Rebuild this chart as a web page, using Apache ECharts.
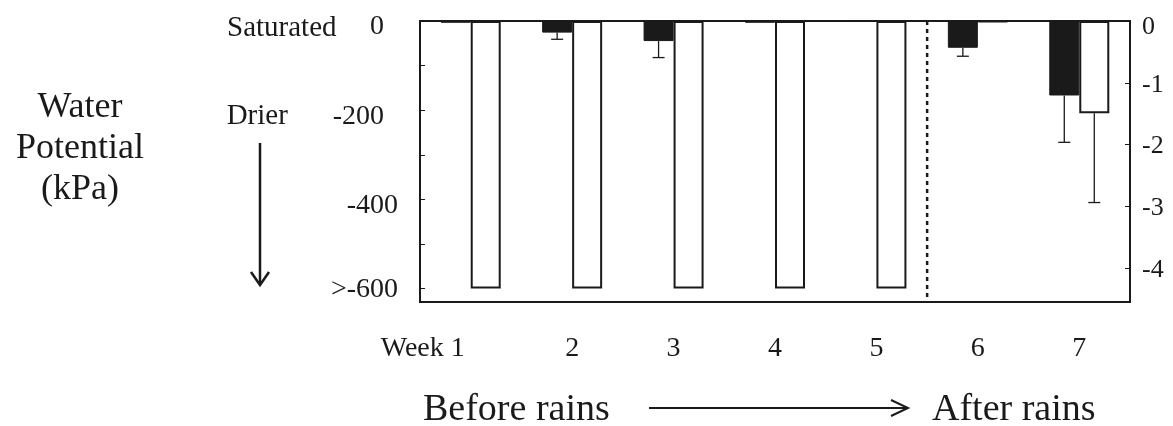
<!DOCTYPE html>
<html>
<head>
<meta charset="utf-8">
<script src="https://cdn.jsdelivr.net/npm/echarts@6/dist/echarts.min.js"></script>
<style>
  html, body { margin: 0; padding: 0; background: #fff; }
  #chart { width: 1173px; height: 426px; }
</style>
</head>
<body>
<div id="chart"></div>
<script>
// weeks along the bottom
var weeks = ['Week 1', '2', '3', '4', '5', '6', '7'];
// black bars (left axis, kPa)
var blackValues = [-4, -26, -45, -4, -2, -60, -167];
// lower end of black error bars (null = none)
var blackErrLow = [null, -41, -82, null, null, -79, -272];
// white bars (left axis, kPa); -600 means off scale (>-600)
var whiteValues = [-600, -600, -600, -600, -600, -2, -207];
var whiteErrLow = [null, null, null, null, null, null, -407];
// tick values
var leftTicks = [0, -100, -200, -300, -400, -500, -600];
var leftLabels = [0, -200, -400, -600];
var rightTicks = [0, -1, -2, -3, -4];
// rains came after this many weeks
var rainsAfterWeek = 5;

var FONT = '"Liberation Serif", "DejaVu Serif", serif';
var INK = '#1a1a1a';

var chart = echarts.init(document.getElementById('chart'));

function errorItems(lows, values) {
  var out = [];
  lows.forEach(function (lo, i) {
    if (lo !== null) out.push([i, values[i], lo]);
  });
  return out;
}

function errRenderer(shift) {
  return function (params, api) {
    var top = api.coord([api.value(0), api.value(1)]);
    var bot = api.coord([api.value(0), api.value(2)]);
    var x = top[0] + shift;
    var style = { stroke: INK, lineWidth: 1.3 };
    return {
      type: 'group',
      children: [
        { type: 'line', shape: { x1: x, y1: top[1], x2: x, y2: bot[1] }, style: style },
        { type: 'line', shape: { x1: x - 6, y1: bot[1], x2: x + 6, y2: bot[1] }, style: style }
      ]
    };
  };
}

var option = {
  animation: false,
  backgroundColor: '#fff',
  grid: {
    left: 420, right: 43, top: 21, bottom: 124,
    show: true, borderColor: INK, borderWidth: 2
  },
  xAxis: [
    {
      type: 'category',
      data: weeks,
      position: 'bottom',
      axisLine: { onZero: false, lineStyle: { color: INK, width: 2 } },
      axisTick: { inside: true, length: 6, interval: 0, lineStyle: { color: INK, width: 1.5 } },
      axisLabel: {
        interval: 0,
        color: INK, fontFamily: FONT, fontSize: 28, margin: 33,
        formatter: function (v, i) { return i === 0 ? '{wk|' + v + '}' : v; },
        rich: { wk: { fontFamily: FONT, fontSize: 28, color: INK, padding: [0, 96, 0, 0] } }
      },
      splitLine: { show: false }
    },
    { type: 'value', min: 0, max: weeks.length, show: false }
  ],
  yAxis: [
    {
      type: 'value',
      min: -630, max: 0,
      axisLine: { show: true, lineStyle: { color: INK, width: 2 } },
      axisTick: { show: true, inside: true, length: 5, customValues: leftTicks, lineStyle: { color: INK } },
      splitLine: { show: false },
      axisLabel: {
        customValues: leftLabels,
        color: INK, fontFamily: FONT, fontSize: 28, margin: 22,
        formatter: function (v) {
          if (v === 0) return '{sat|Saturated}{n1|0}';
          if (v === -200) return '{dri|Drier}{n1|-200}';
          if (v === -600) return '{n3|>-600}';
          return '{n2|' + v + '}';
        },
        rich: {
          sat: { fontFamily: FONT, fontSize: 29, color: INK, width: 143, align: 'left', padding: [14, 0, 0, 0] },
          dri: { fontFamily: FONT, fontSize: 29, color: INK, width: 106, align: 'left', padding: [12, 0, 0, 0] },
          n1: { fontFamily: FONT, fontSize: 28, color: INK, padding: [12, 14, 0, 0] },
          n2: { fontFamily: FONT, fontSize: 28, color: INK, padding: [12, 0, 0, 0] },
          n3: { fontFamily: FONT, fontSize: 28, color: INK, padding: [2, 0, 0, 0] }
        }
      }
    },
    {
      type: 'value',
      position: 'right',
      min: -4.55, max: 0,
      axisLine: { show: true, lineStyle: { color: INK, width: 2 } },
      axisTick: { show: true, inside: true, length: 5, customValues: rightTicks, lineStyle: { color: INK } },
      splitLine: { show: false },
      axisLabel: {
        customValues: rightTicks,
        color: INK, fontFamily: FONT, fontSize: 26, margin: 12,
        formatter: function (v) { return v === 0 ? '{z|0}' : '{r|' + v + '}'; },
        rich: {
          z: { fontFamily: FONT, fontSize: 26, color: INK, padding: [12, 0, 0, 0] },
          r: { fontFamily: FONT, fontSize: 26, color: INK, padding: [4, 0, 0, 0] }
        }
      }
    }
  ],
  graphic: [
    {
      type: 'text', left: 10, top: 87,
      style: {
        text: 'Water\nPotential\n(kPa)', font: '36px ' + FONT, fill: INK,
        textAlign: 'center', lineHeight: 41, width: 140
      }
    },
    {
      type: 'group',
      children: [
        { type: 'line', shape: { x1: 260, y1: 143, x2: 260, y2: 284 }, style: { stroke: INK, lineWidth: 2.5 } },
        { type: 'polyline', shape: { points: [[251, 272], [260, 285], [269, 272]] }, style: { stroke: INK, lineWidth: 2.5, fill: null } },
        { type: 'line', shape: { x1: 649, y1: 408, x2: 906, y2: 408 }, style: { stroke: INK, lineWidth: 2 } },
        { type: 'polyline', shape: { points: [[891, 400], [908, 408], [891, 416]] }, style: { stroke: INK, lineWidth: 2, fill: null } }
      ]
    },
    {
      type: 'text', left: 423, top: 391,
      style: { text: 'Before rains', font: '38px ' + FONT, fill: INK }
    },
    {
      type: 'text', left: 932, top: 391,
      style: { text: 'After rains', font: '38px ' + FONT, fill: INK }
    }
  ],
  series: [
    {
      type: 'bar', name: 'dark',
      data: blackValues,
      barWidth: 30, barGap: '0%',
      itemStyle: { color: INK, borderColor: INK, borderWidth: 1 }
    },
    {
      type: 'bar', name: 'light',
      data: whiteValues,
      barWidth: 30, barGap: '0%',
      itemStyle: { color: '#fff', borderColor: INK, borderWidth: 2 }
    },
    {
      type: 'custom', name: 'dark error',
      renderItem: errRenderer(-15),
      data: errorItems(blackErrLow, blackValues),
      z: 5
    },
    {
      type: 'custom', name: 'light error',
      renderItem: errRenderer(15),
      data: errorItems(whiteErrLow, whiteValues),
      z: 5
    },
    {
      type: 'line', name: 'rains',
      xAxisIndex: 1, yAxisIndex: 0,
      data: [[rainsAfterWeek, 0], [rainsAfterWeek, -630]],
      symbol: 'none',
      lineStyle: { color: INK, width: 2.5, type: [4, 4] }
    }
  ]
};

chart.setOption(option);
</script>
</body>
</html>
